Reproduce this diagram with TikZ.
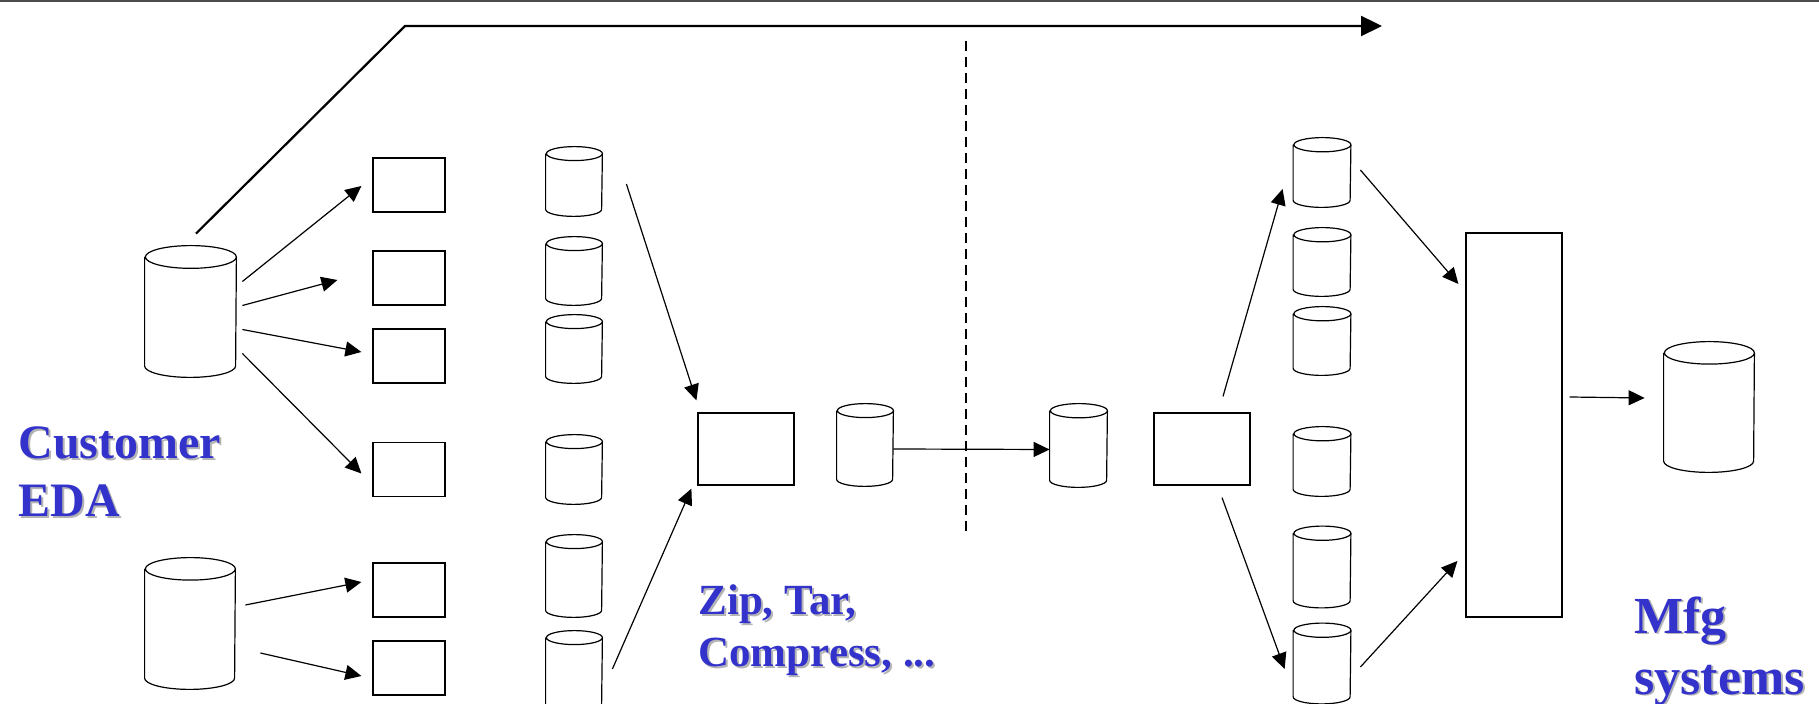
\documentclass[tikz,border=0pt]{standalone}
\usepackage{fontspec}
\newfontfamily\lblfont{Liberation Serif}
\usetikzlibrary{arrows.meta}
\definecolor{lblblue}{HTML}{3333CC}
\definecolor{lblshadow}{HTML}{B4B4B4}
\newcommand\shadowed[1]{\makebox[0pt][l]{\kern1pt\raisebox{-1pt}{\textcolor{lblshadow}{#1}}}#1}

\begin{document}
\begin{tikzpicture}[x=0.5pt,y=-0.5pt]

    \tikzset{
      box/.style={
        draw,
        line width=0.6pt,
        inner sep=0pt,
        minimum width=36pt,
        minimum height=27pt,
      },
      db/.style 2 args={
        rectangle,
        inner sep=0pt,
        minimum width=#1,
        minimum height=#2,
        append after command={\pgfextra{
          \draw[line width=0.6pt]
            ([yshift=-#1/8]\tikzlastnode.north west)--([yshift=#1/8]\tikzlastnode.south west)
            arc[start angle=180,end angle=360,x radius=#1/2,y radius=#1/8]
            --([yshift=-#1/8]\tikzlastnode.north east)
            arc[start angle=0,end angle=180,x radius=#1/2,y radius=#1/8]
            arc[start angle=180,end angle=360,x radius=#1/2,y radius=#1/8];
        }},
      },
      flow/.style={line width=0.6pt,-{Triangle[length=8pt,width=7.5pt]}},
      lbl/.style={text=lblblue,align=left,inner sep=0pt,anchor=base west},
    }
    \useasboundingbox (0,0) rectangle (1819,704);
    \draw[line width=1pt,color={black!70}] (0,1)--(1819,1);

	% customer side
	\node[db={45.5pt}{65.5pt}] (custA) at (190.5,311.5) {};
	\node[db={45pt}{65.5pt}] (custB) at (190,623.5) {};
	\node[box] (b1) at (409,185) {};
	\node[box] (b2) at (409,278) {};
	\node[box] (b3) at (409,356) {};
	\node[box] (b4) at (409,469.5) {};
	\node[box] (b5) at (409,590) {};
	\node[box] (b6) at (409,668) {};
	\node[db={28pt}{34.5pt}] (in1) at (574,181.5) {};
	\node[db={28pt}{34pt}] (in2) at (574,271) {};
	\node[db={28pt}{34pt}] (in3) at (574,349) {};
	\node[db={28pt}{34.5pt}] (in4) at (574,469.5) {};
	\node[db={28pt}{41pt}] (in5) at (574,576) {};
	\node[db={28pt}{40pt}] (in6) at (574,671) {};
	\node[box,minimum width=48pt,minimum height=36pt] (zip) at (746,449) {};
	\node[db={28pt}{41pt}] (zc) at (865,445) {};

	% manufacturing side
	\node[db={28.5pt}{41.5pt}] (uc) at (1078.5,445.5) {};
	\node[box,minimum width=48pt,minimum height=36pt] (unzip) at (1202,449) {};
	\node[db={28.5pt}{34.5pt}] (out1) at (1322,172.5) {};
	\node[db={28.5pt}{34pt}] (out2) at (1322,262) {};
	\node[db={28.5pt}{34pt}] (out3) at (1322,341) {};
	\node[db={28.5pt}{34.5pt}] (out4) at (1322,461.5) {};
	\node[db={28.5pt}{40.5pt}] (out5) at (1322,567) {};
	\node[db={28.5pt}{40pt}] (out6) at (1322,663.5) {};
	\node[box,minimum width=48pt,minimum height=192pt] (mfg) at (1514,425) {};
	\node[db={45pt}{65pt}] (store) at (1709,407) {};

	\draw[flow] ([shift={(6,-30)}]custA.east)--([shift={(-11,1)}]b1.west);
	\draw[flow] ([shift={(6,-6)}]custA.east)--([shift={(-35,2)}]b2.west);
	\draw[flow] ([shift={(6,18)}]custA.east)--([shift={(-11,-4)}]b3.west);
	\draw[flow] ([shift={(6,42)}]custA.east)--([shift={(-11,4)}]b4.west);
	\draw[flow] ([shift={(10,-18.5)}]custB.east)--([shift={(-11,-8)}]b5.west);
	\draw[flow] ([shift={(25,29.5)}]custB.east)--([shift={(-11,8)}]b6.west);
	\draw[flow] ([shift={(24,2.5)}]in1.east)--([shift={(-1,-12)}]zip.north west);
	\draw[flow] ([shift={(10,-2)}]in6.east)--([shift={(-6,3)}]zip.south west);
	\draw[flow] ([shift={(0,4)}]zc.east)--([shift={(0,4)}]uc.west);
	\draw[flow] ([shift={(21,-16)}]unzip.north)--([shift={(-10.5,16.5)}]out1.west);
	\draw[flow] ([shift={(20,12)}]unzip.south)--([shift={(-8.5,5.5)}]out6.west);
	\draw[flow] ([shift={(9.5,-2.5)}]out1.east)--([shift={(-7,-141)}]mfg.west);
	\draw[flow] ([shift={(9.5,3.5)}]out6.east)--([shift={(-8,136)}]mfg.west);
	\draw[flow] ([shift={(7,-28)}]mfg.east)--([shift={(-19,-9)}]store.west);

	% direct route and cut
	\coordinate (bypass) at (405,26);
	\coordinate (bypassend) at (1382,26);
	\draw[line width=1.1pt,-{Triangle[length=10.5pt,width=10pt]}] ([shift={(5.5,-12)}]custA.north)--(bypass)--(bypassend);
	\coordinate (cuttop) at (966,41);
	\coordinate (cutbot) at (966,534);
	\draw[line width=0.7pt,dash pattern=on 5pt off 3pt] (cuttop)--(cutbot);

	\node[lbl,font=\lblfont\bfseries\fontsize{24}{29}\selectfont] (custtxt) at (18,517) {\shadowed{Customer}\\\shadowed{EDA}};
	\node[lbl,font=\lblfont\bfseries\fontsize{21.5}{26}\selectfont] (ziptxt) at (698,667) {\shadowed{Zip, Tar,}\\\shadowed{Compress, ...}};
	\node[lbl,font=\lblfont\bfseries\fontsize{26}{30.5}\selectfont] (mfgtxt) at (1634,694) {\shadowed{Mfg}\\\shadowed{systems}};

\end{tikzpicture}
\end{document}
